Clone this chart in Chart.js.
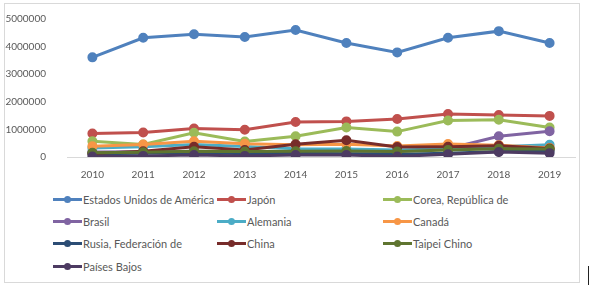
<!DOCTYPE html>
<html>
<head>
<meta charset="utf-8">
<script src="https://cdn.jsdelivr.net/npm/chart.js@4"></script>
<style>
  body { margin: 0; background: #fff; }
  #wrap { position: relative; width: 591px; height: 286px; overflow: hidden; }
  #frame { position: absolute; left: 4px; top: 3px; width: 576px; height: 280px; border: 1px solid #d9d9d9; box-sizing: border-box; }
  #cursor { position: absolute; left: 588px; top: 266px; width: 1px; height: 19px; background: #222; }
  #box { position: absolute; left: 0; top: 0; width: 591px; height: 186px; }
  #legend { position: absolute; left: 53px; top: 188px; display: grid;
    grid-template-columns: 164px 166px 180px; grid-auto-rows: 22.4px;
    font-family: Lato, sans-serif; font-size: 11px; color: #595959; }
  .item { display: flex; align-items: center; white-space: nowrap; }
  .sw { position: relative; width: 29px; height: 3px; margin-right: 1px; }
  .sw i { position: absolute; left: 11px; top: -2px; width: 7px; height: 7px; border-radius: 50%; }
</style>
</head>
<body>
<div id="wrap">
  <div id="frame"></div>
  <div id="box"><canvas id="myChart"></canvas></div>
  <div id="legend"></div>
  <div id="cursor"></div>
</div>
<script>
const years = ['2010', '2011', '2012', '2013', '2014', '2015', '2016', '2017', '2018', '2019'];
const names = ['Estados Unidos de América', 'Japón', 'Corea, República de', 'Brasil', 'Alemania',
    'Canadá', 'Rusia, Federación de', 'China', 'Taipei Chino', 'Países Bajos'];
const colors = ['#4f81bd', '#c0504d', '#9bbb59', '#8064a2', '#4bacc6',
    '#f79646', '#2c4d75', '#772c2a', '#5f7530', '#4d3b62'];

const usa = [3610000, 4320000, 4450000, 4350000, 4600000, 4130000, 3790000, 4320000, 4560000, 4130000];
const japon = [850000, 890000, 1030000, 990000, 1270000, 1290000, 1380000, 1560000, 1520000, 1490000];
const corea = [570000, 450000, 880000, 560000, 750000, 1070000, 920000, 1320000, 1350000, 1070000];
const brasil = [180000, 190000, 210000, 190000, 200000, 220000, 200000, 300000, 750000, 930000];
const alemania = [330000, 370000, 450000, 380000, 300000, 290000, 250000, 300000, 370000, 440000];
const canada = [390000, 450000, 570000, 480000, 440000, 460000, 400000, 470000, 430000, 330000];
const rusia = [120000, 140000, 160000, 120000, 130000, 120000, 100000, 140000, 200000, 230000];
const china = [130000, 210000, 370000, 250000, 460000, 610000, 360000, 370000, 410000, 310000];
const taipei = [150000, 170000, 210000, 200000, 210000, 220000, 200000, 250000, 300000, 290000];
const paisesBajos = [20000, 40000, 70000, 40000, 70000, 70000, 20000, 100000, 180000, 140000];

const series = [usa, japon, corea, brasil, alemania, canada, rusia, china, taipei, paisesBajos];

// datasets, last one drawn on top like in Excel
const datasets = series.map((values, i) => ({
    label: names[i],
    data: values,
    borderColor: colors[i],
    backgroundColor: colors[i],
    borderWidth: 3,
    pointRadius: 3.5,
    pointHoverRadius: 3.5,
    tension: 0,
    order: series.length - i
}));

const ctx = document.getElementById('myChart').getContext('2d');
const myChart = new Chart(ctx, {
    type: 'line',
    data: { labels: years, datasets: datasets },
    options: {
        responsive: true,
        maintainAspectRatio: false,
        animation: false,
        layout: { padding: { left: 5, right: 16, top: 17, bottom: 0 } },
        plugins: { legend: { display: false }, tooltip: { enabled: false } },
        scales: {
            x: {
                offset: true,
                grid: { display: false, offset: true },
                border: { display: true, color: '#d9d9d9', width: 1 },
                ticks: { color: '#595959', font: { family: 'Lato', size: 10 }, padding: 4, maxRotation: 0 },
                afterFit: (scale) => { scale.height = 29; }
            },
            y: {
                min: 0,
                max: 5000000,
                grid: { display: false },
                border: { display: false },
                ticks: {
                    stepSize: 1000000, color: '#595959', font: { family: 'Lato', size: 10 }, padding: 13,
                    callback: (v) => String(v)
                },
                afterFit: (scale) => { scale.width = 62; }
            }
        }
    }
});

// legend in three columns
const legend = document.getElementById('legend');
names.forEach((name, i) => {
    const item = document.createElement('div');
    item.className = 'item';
    item.innerHTML = '<span class="sw" style="background:' + colors[i] + '"><i style="background:' + colors[i] + '"></i></span>' + name;
    legend.appendChild(item);
});
</script>
</body>
</html>
